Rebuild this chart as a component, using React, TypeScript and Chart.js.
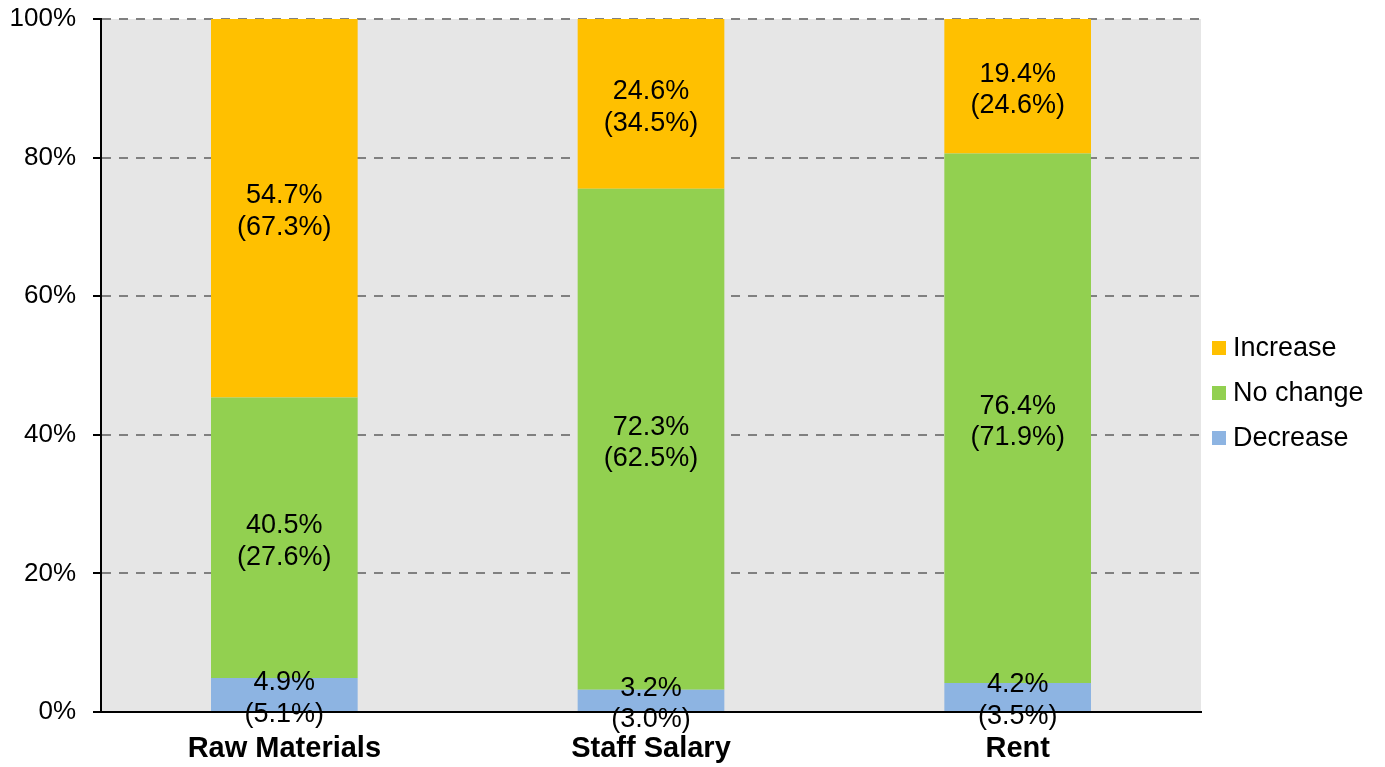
import React, { useEffect, useRef } from "react";
import { Chart, registerables } from "chart.js";

Chart.register(...registerables);

const categories = ["Raw Materials", "Staff Salary", "Rent"];
const seriesNames = ["Decrease", "No change", "Increase"];
const decrease = [4.9, 3.2, 4.2];
const noChange = [40.5, 72.3, 76.4];
const increase = [54.7, 24.6, 19.4];
const decreasePrev = [5.1, 3.0, 3.5];
const noChangePrev = [27.6, 62.5, 71.9];
const increasePrev = [67.3, 34.5, 24.6];
const seriesColors = ["#8DB4E2", "#92D050", "#FFC000"];
const yTickStep = 20;
const yMax = 100;

const FONT = "'Liberation Sans', Arial, sans-serif";

const bgPlugin = {
  id: "plotBg",
  beforeDraw(chart: any) {
    const { ctx, chartArea } = chart;
    ctx.save();
    ctx.fillStyle = "#e6e6e6";
    ctx.fillRect(chartArea.left, chartArea.top, chartArea.right - chartArea.left, chartArea.bottom - chartArea.top);
    ctx.restore();
  },
};

const labelPlugin = {
  id: "segLabels",
  afterDatasetsDraw(chart: any) {
    const { ctx } = chart;
    const prevs = [decreasePrev, noChangePrev, increasePrev];
    ctx.save();
    ctx.font = `27px ${FONT}`;
    ctx.fillStyle = "#000";
    ctx.textAlign = "center";
    ctx.textBaseline = "alphabetic";
    chart.data.datasets.forEach((ds: any, di: number) => {
      const meta = chart.getDatasetMeta(di);
      meta.data.forEach((bar: any, i: number) => {
        const cy = (bar.y + bar.base) / 2;
        const v = ds.data[i];
        ctx.fillText(`${v.toFixed(1)}%`, bar.x, cy - 4.5);
        ctx.fillText(`(${prevs[di][i].toFixed(1)}%)`, bar.x, cy + 27);
      });
    });
    ctx.restore();
  },
};

const legendPlugin = {
  id: "customLegend",
  afterDraw(chart: any) {
    const { ctx, chartArea } = chart;
    const x0 = chartArea.right + 11;
    const yStart = 348;
    const gap = 45;
    ctx.save();
    ctx.font = `27px ${FONT}`;
    ctx.textAlign = "left";
    ctx.textBaseline = "middle";
    const order = [2, 1, 0];
    order.forEach((di, k) => {
      const y = yStart + k * gap;
      ctx.fillStyle = seriesColors[di];
      ctx.fillRect(x0, y - 7, 14, 14);
      ctx.fillStyle = "#000";
      ctx.fillText(seriesNames[di], x0 + 21, y + 1);
    });
    ctx.restore();
  },
};

export default function App() {
  const ref = useRef<HTMLCanvasElement>(null);
  useEffect(() => {
    document.body.style.margin = "0";
    const canvas = ref.current!;
    const values = [decrease, noChange, increase];
    const chart = new Chart(canvas, {
      type: "bar",
      data: {
        labels: categories,
        datasets: seriesNames.map((name, i) => ({
          label: name,
          data: values[i],
          backgroundColor: seriesColors[i],
          borderWidth: 0,
          barPercentage: 0.4,
          categoryPercentage: 1.0,
        })),
      },
      options: {
        responsive: false,
        animation: false,
        layout: { padding: { top: 19, right: 184, bottom: 0, left: 0 } },
        plugins: {
          legend: { display: false },
          tooltip: { enabled: false },
        },
        scales: {
          x: {
            stacked: true,
            z: 1,
            grid: { display: false, drawTicks: false },
            border: { display: true, color: "#000", width: 2 },
            ticks: {
              color: "#000",
              font: { family: FONT, size: 29, weight: "bold" },
              padding: 20,
              maxRotation: 0,
            },
            afterFit(scale: any) {
              scale.height = 55;
              scale.paddingLeft = 0;
              scale.paddingRight = 0;
            },
          },
          y: {
            stacked: true,
            min: 0,
            max: yMax,
            grid: {
              color: "#808080",
              lineWidth: 2,
              tickColor: "#000",
              tickLength: 8,
              tickWidth: 2,
              tickBorderDash: [],
            },
            border: { display: true, color: "#000", width: 2, dash: [9, 8] },
            ticks: {
              stepSize: yTickStep,
              color: "#000",
              font: { family: FONT, size: 26 },
              padding: 17,
              callback: (v: any) => `${v}%`,
            },
            afterFit(scale: any) {
              scale.width = 101;
              scale.paddingTop = 0;
              scale.paddingBottom = 0;
            },
          },
        },
      },
      plugins: [bgPlugin, labelPlugin, legendPlugin],
    });
    return () => chart.destroy();
  }, []);
  return (
    <div style={{ width: 1385, height: 767 }}>
      <canvas ref={ref} width={1385} height={767} style={{ display: "block" }} />
    </div>
  );
}
